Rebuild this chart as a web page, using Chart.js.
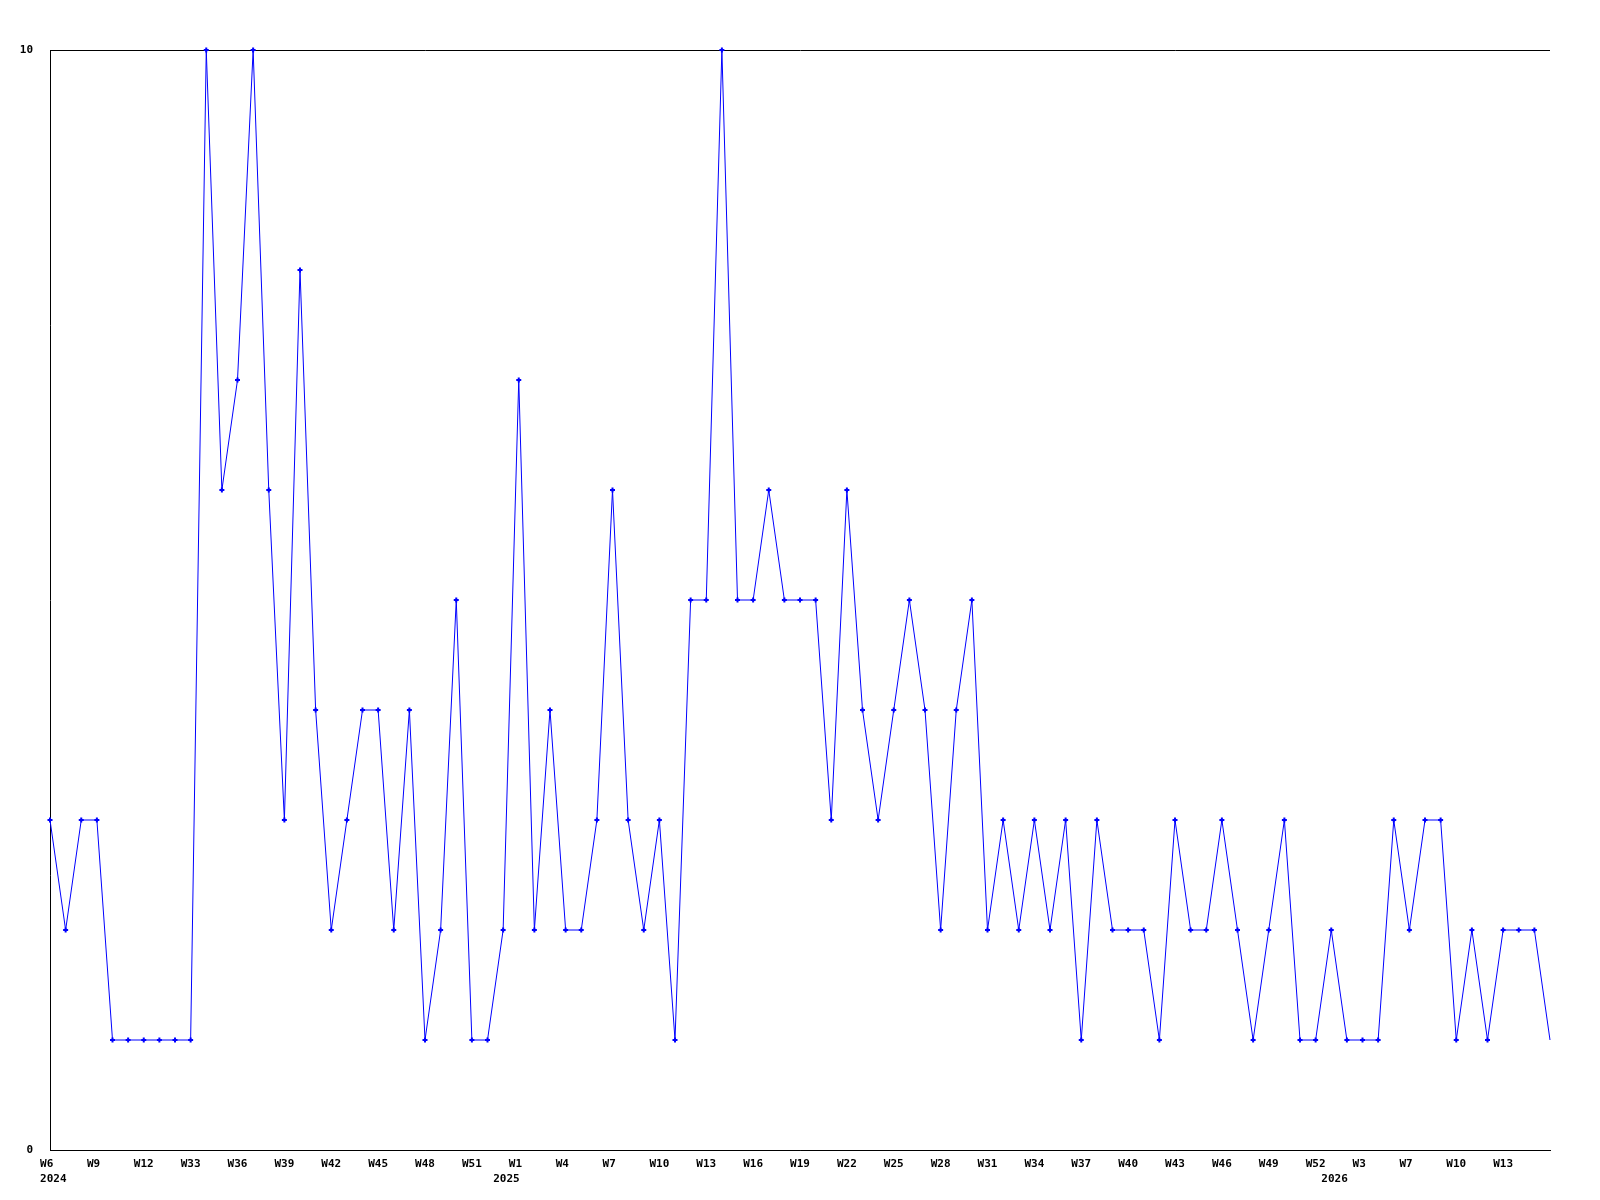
<!DOCTYPE html>
<html>
<head>
<meta charset="utf-8">
<script src="https://cdn.jsdelivr.net/npm/chart.js@4"></script>
<style>
  html, body { margin: 0; padding: 0; background: #fff; }
  #wrap { width: 1600px; height: 1200px; }
</style>
</head>
<body>
<div id="wrap"><canvas id="chart" width="1600" height="1200"></canvas></div>
<script>
// one label every third week
const weekTicks = ["W6", "W9", "W12", "W33", "W36", "W39", "W42", "W45", "W48", "W51", "W1",
  "W4", "W7", "W10", "W13", "W16", "W19", "W22", "W25", "W28", "W31", "W34", "W37", "W40",
  "W43", "W46", "W49", "W52", "W3", "W7", "W10", "W13"];
const yearPositions = [0, 29, 82];
const yearLabels = ["2024", "2025", "2026"];

const weeklyCounts = [3, 2, 3, 3, 1, 1, 1, 1, 1, 1,
  10, 6, 7, 10, 6, 3, 8, 4, 2, 3,
  4, 4, 2, 4, 1, 2, 5, 1, 1, 2,
  7, 2, 4, 2, 2, 3, 6, 3, 2, 3,
  1, 5, 5, 10, 5, 5, 6, 5, 5, 5,
  3, 6, 4, 3, 4, 5, 4, 2, 4, 5,
  2, 3, 2, 3, 2, 3, 1, 3, 2, 2,
  2, 1, 3, 2, 2, 3, 2, 1, 2, 3,
  1, 1, 2, 1, 1, 1, 3, 2, 3, 3,
  1, 2, 1, 2, 2, 2, 1];

const labels = weeklyCounts.map((v, i) => i);
const monoFont = { family: "'DejaVu Sans Mono', 'Liberation Mono', monospace", size: 11, weight: "bold", lineHeight: 1.4 };

function tickLabel(index) {
  const yi = yearPositions.indexOf(index);
  const week = (index % 3 === 0 && weekTicks[index / 3]) || "";
  if (week === "" && yi < 0) return "";
  const lines = [week.padEnd(3)];
  if (yi >= 0) lines.push(" " + yearLabels[yi]);
  return lines;
}

new Chart(document.getElementById("chart"), {
  type: "line",
  data: {
    labels: labels,
    datasets: [{
      data: weeklyCounts,
      borderColor: "#0000ff",
      backgroundColor: "#0000ff",
      borderWidth: 1,
      tension: 0,
      fill: false,
      clip: false,
      pointStyle: "cross",
      pointRadius: ctx => ctx.dataIndex === weeklyCounts.length - 1 ? 0 : 2.5,
      pointBorderWidth: 2,
      pointHoverRadius: 2.5
    }]
  },
  options: {
    responsive: false,
    animation: false,
    layout: { padding: { top: 50, right: 50, left: 0, bottom: 0 } },
    plugins: { legend: { display: false }, tooltip: { enabled: false } },
    scales: {
      x: {
        offset: false,
        grid: { display: false, drawTicks: false },
        border: { display: true, color: "#000", width: 1 },
        afterFit: scale => { scale.height = 50; },
        ticks: {
          autoSkip: false,
          maxRotation: 0,
          minRotation: 0,
          padding: 6,
          color: "#000",
          font: monoFont,
          callback: (value, index) => tickLabel(index)
        }
      },
      y: {
        min: 0,
        max: 10,
        grid: { display: true, color: "#000", lineWidth: 1, drawTicks: false },
        border: { display: true, color: "#000", width: 1 },
        afterFit: scale => { scale.width = 50; },
        ticks: {
          stepSize: 10,
          padding: 17,
          color: "#000",
          font: monoFont
        }
      }
    }
  }
});
</script>
</body>
</html>
